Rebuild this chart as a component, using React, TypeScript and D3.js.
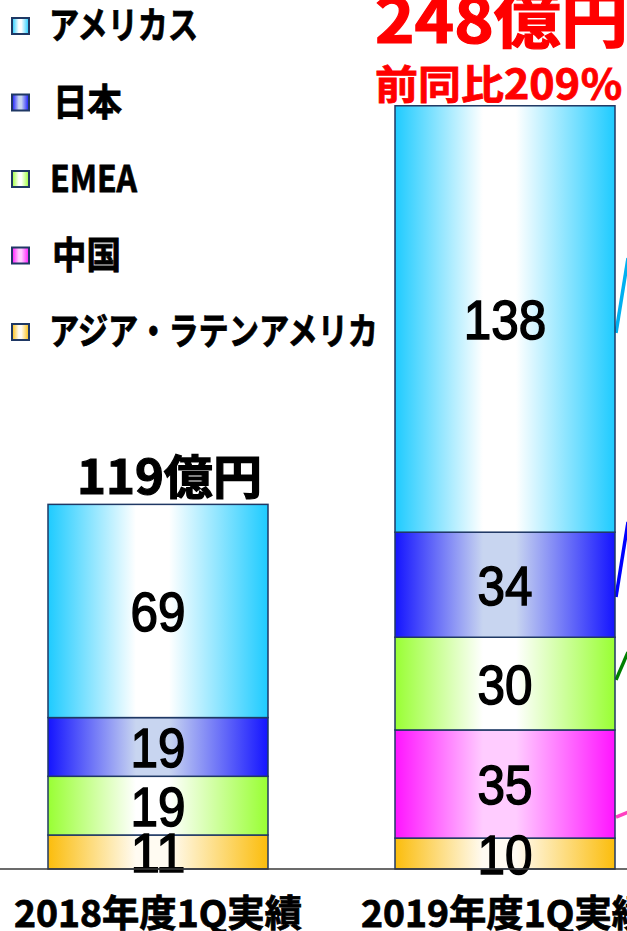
import React from 'react';
import * as d3 from 'd3';

// ---- data ----
const categories = ['2018年度1Q実績', '2019年度1Q実績'];
const regions = ['アメリカス', '日本', 'EMEA', '中国', 'アジア・ラテンアメリカ'];
const americas = [69, 138];
const japan = [19, 34];
const emea = [19, 30];
const china = [0, 35];
const asiaLatam = [11, 10];
const totalLabels = ['119億円', '248億円'];
const growthLabel = '前同比209％';
// connector lines leaving the 2019 bar towards the right (value at bar edge, value at frame edge)
const connectorRegions = ['アメリカス', '日本', 'EMEA', '中国'];
const connectorFrom = [173.5, 88, 61.2, 16.8];
const connectorTo = [197.7, 112.3, 70.2, 18.4];

// ---- styles ----
const W = 627;
const H = 931;
const edgeColors: Record<string, string> = {
  'アメリカス': '#1ecbff',
  '日本': '#1414ff',
  'EMEA': '#99ff33',
  '中国': '#ff14ff',
  'アジア・ラテンアメリカ': '#fbbd0c',
};
const centerColors: Record<string, string> = {
  'アメリカス': '#ffffff',
  '日本': '#c8d5f0',
  'EMEA': '#ffffff',
  '中国': '#ffccff',
  'アジア・ラテンアメリカ': '#fffbf2',
};
const connectorColors: Record<string, string> = {
  'アメリカス': '#00b0f0',
  '日本': '#0000ff',
  'EMEA': '#008000',
  '中国': '#ff3fc0',
};
const legendTextX = [49, 53, 50, 52, 49];
const legendTextLen = [149, 69, 87, 69, 329];

const JP = '"Noto Sans CJK JP", "Noto Sans", sans-serif';
const NUM = '"Liberation Sans", Arial, sans-serif';

const seriesArrays: Record<string, number[]> = {
  'アメリカス': americas,
  '日本': japan,
  'EMEA': emea,
  '中国': china,
  'アジア・ラテンアメリカ': asiaLatam,
};

export default function App() {
  const rows = categories.map((c, i) => {
    const r: any = { cat: c };
    regions.forEach((k) => (r[k] = seriesArrays[k][i]));
    return r;
  });
  const stackKeys = ['アジア・ラテンアメリカ', '中国', 'EMEA', '日本', 'アメリカス'];
  const stacked = d3.stack<any>().keys(stackKeys)(rows);

  const x = d3.scaleBand<string>().domain(categories).range([48, 615]).paddingInner(0.366).paddingOuter(0);
  const y = d3.scaleLinear().domain([0, 250]).range([869, 96.5]);
  const bw = x.bandwidth();

  const totals = rows.map((r) => regions.reduce((s, k) => s + r[k], 0));
  const gid = (k: string) => 'g' + regions.indexOf(k);

  const numSize = 56;
  const last = categories[categories.length - 1];

  return (
    <svg
      width={W}
      height={H}
      style={{ position: 'absolute', left: 0, top: 0, background: '#fff' }}
    >
      <defs>
        {regions.map((k) => (
          <linearGradient key={k} id={gid(k)} x1="0" x2="1" y1="0" y2="0">
            <stop offset="0" stopColor={edgeColors[k]} />
            <stop offset="0.4" stopColor={centerColors[k]} />
            <stop offset="0.55" stopColor={centerColors[k]} />
            <stop offset="1" stopColor={edgeColors[k]} />
          </linearGradient>
        ))}
      </defs>
      <rect width={W} height={H} fill="#fff" />

      {/* connector lines */}
      {connectorRegions.map((k, i) => (
        <line
          key={k}
          x1={(x(last) as number) + bw + 1}
          x2={W + 1}
          y1={y(connectorFrom[i])}
          y2={y(connectorTo[i])}
          stroke={connectorColors[k]}
          strokeWidth={3.5}
        />
      ))}

      {/* stacked bars */}
      {stacked.map((layer) => (
        <g key={layer.key}>
          {layer.map((d, i) => {
            const v = d[1] - d[0];
            if (v <= 0) return null;
            const x0 = x(categories[i]) as number;
            return (
              <rect
                key={i}
                x={x0}
                y={y(d[1])}
                width={bw}
                height={y(d[0]) - y(d[1])}
                fill={`url(#${gid(layer.key)})`}
                stroke="#1f3864"
                strokeWidth={1.5}
              />
            );
          })}
        </g>
      ))}

      {/* value labels */}
      {stacked.map((layer) => (
        <g key={'l' + layer.key}>
          {layer.map((d, i) => {
            const v = d[1] - d[0];
            if (v <= 0) return null;
            const cx = (x(categories[i]) as number) + bw / 2;
            const cy = (y(d[0]) + y(d[1])) / 2;
            const s = String(v);
            return (
              <text
                key={i}
                x={cx - (s.length * 27.5) / 2}
                y={cy + numSize * 0.358}
                fontFamily={NUM}
                fontSize={numSize}
                fill="#000"
                stroke="#000"
                strokeWidth={1.5}
                textLength={s.length * 27.5}
                lengthAdjust="spacingAndGlyphs"
              >
                {s}
              </text>
            );
          })}
        </g>
      ))}

      {/* axis baseline */}
      <line x1={0} x2={W} y1={y(0)} y2={y(0)} stroke="#3a3a3a" strokeWidth={1.6} />

      {/* category labels */}
      {categories.map((c) => (
        <text
          key={c}
          x={(x(c) as number) + bw / 2 - 144}
          y={927}
          fontFamily={JP}
          fontWeight={700}
          fontSize={37}
          fill="#000"
          stroke="#000"
          strokeWidth={0.8}
          textLength={288}
          lengthAdjust="spacingAndGlyphs"
        >
          {c}
        </text>
      ))}

      {/* total labels */}
      <text
        x={(x(categories[0]) as number) + 29}
        y={y(totals[0]) - 10}
        fontFamily={JP}
        fontWeight={700}
        fontSize={47}
        fill="#000"
        stroke="#000"
        strokeWidth={1.2}
        textLength={185}
        lengthAdjust="spacingAndGlyphs"
      >
        {totalLabels[0]}
      </text>
      <text
        x={(x(categories[1]) as number) - 20}
        y={y(totals[1]) - 63}
        fontFamily={JP}
        fontWeight={700}
        fontSize={62}
        fill="#ff0000"
        stroke="#ff0000"
        strokeWidth={1.2}
        textLength={253}
        lengthAdjust="spacingAndGlyphs"
      >
        {totalLabels[1]}
      </text>
      <text
        x={(x(categories[1]) as number) - 20}
        y={y(totals[1]) - 7}
        fontFamily={JP}
        fontWeight={700}
        fontSize={40}
        fill="#ff0000"
        stroke="#ff0000"
        strokeWidth={0.8}
        textLength={248}
        lengthAdjust="spacingAndGlyphs"
      >
        {growthLabel}
      </text>

      {/* legend */}
      {regions.map((k, i) => {
        const cy = 26 + i * 76.5;
        return (
          <g key={'lg' + k}>
            <rect
              x={12}
              y={cy - 8}
              width={17}
              height={16}
              fill={`url(#${gid(k)})`}
              stroke="#1f3864"
              strokeWidth={2}
            />
            <text
              x={legendTextX[i]}
              y={cy + 13}
              fontFamily={JP}
              fontWeight={700}
              fontSize={37}
              fill="#000"
              stroke="#000"
              strokeWidth={0.8}
              textLength={legendTextLen[i]}
              lengthAdjust="spacingAndGlyphs"
            >
              {k}
            </text>
          </g>
        );
      })}
    </svg>
  );
}
